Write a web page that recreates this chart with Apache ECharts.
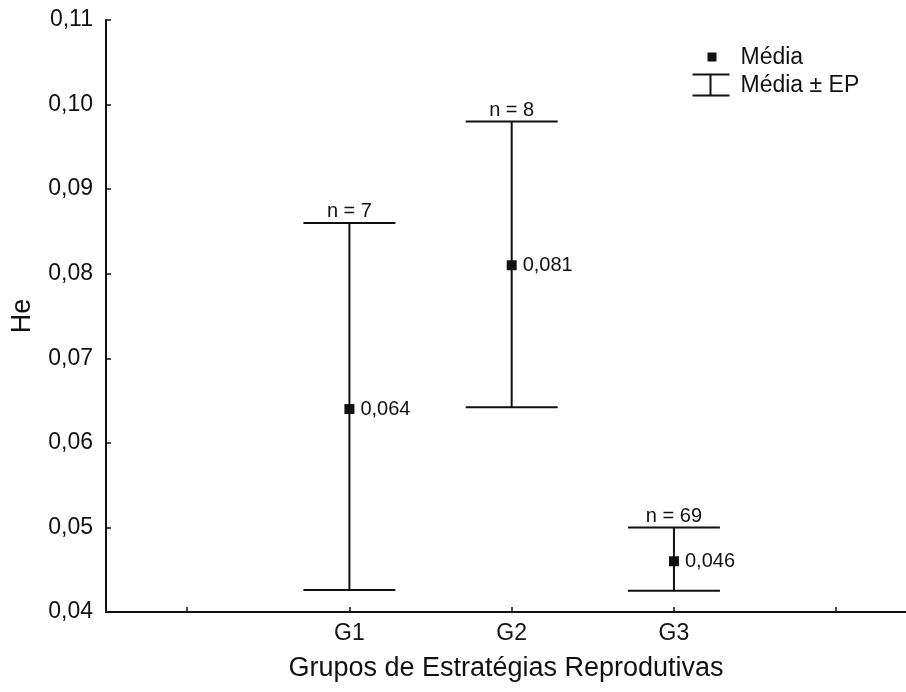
<!DOCTYPE html>
<html>
<head>
<meta charset="utf-8">
<script src="https://cdn.jsdelivr.net/npm/echarts@6/dist/echarts.min.js"></script>
<style>
  html, body { margin: 0; padding: 0; background: #fff; }
  #chart { width: 906px; height: 692px; }
</style>
</head>
<body>
<div id="chart"></div>
<script>
// Groups and their positions on the horizontal value axis
const categories = ['G1', 'G2', 'G3'];
const groupPositions = [2, 3, 4];
const xTickPositions = [1, 2, 3, 4, 5];

// Mean He per group and the mean ± standard error bounds
const means = [0.064, 0.081, 0.046];
const upperBounds = [0.086, 0.098, 0.050];
const lowerBounds = [0.0426, 0.0642, 0.0425];
const sampleSizes = [7, 8, 69];

const FONT = '"Liberation Sans", Arial, Helvetica, sans-serif';
const INK = '#111111';

const fmtComma = (v, digits) => v.toFixed(digits).replace('.', ',');

const meanData = groupPositions.map((x, i) => [x, means[i]]);
const barData = groupPositions.map((x, i) => [x, lowerBounds[i], upperBounds[i], sampleSizes[i]]);

const chart = echarts.init(document.getElementById('chart'), null, { renderer: 'canvas' });

const option = {
  animation: false,
  backgroundColor: '#ffffff',
  grid: { left: 106, right: 0, top: 20, bottom: 80, containLabel: false },
  xAxis: {
    type: 'value',
    min: 0.5,
    max: 5.43,
    name: 'Grupos de Estratégias Reprodutivas',
    nameLocation: 'middle',
    nameGap: 43,
    nameTextStyle: { fontFamily: FONT, fontSize: 27, color: INK },
    axisLine: { show: true, onZero: false, lineStyle: { color: INK, width: 2 } },
    axisTick: { show: true, inside: true, length: 5, customValues: xTickPositions, lineStyle: { color: INK, width: 1.5 } },
    axisLabel: {
      customValues: groupPositions,
      margin: 10,
      fontFamily: FONT, fontSize: 23, color: INK,
      formatter: v => categories[groupPositions.indexOf(Math.round(v))] || ''
    },
    splitLine: { show: false }
  },
  yAxis: {
    type: 'value',
    min: 0.04,
    max: 0.11,
    interval: 0.01,
    name: 'He',
    nameLocation: 'middle',
    nameGap: 70,
    nameRotate: 90,
    nameTextStyle: { fontFamily: FONT, fontSize: 27, color: INK },
    axisLine: { show: true, lineStyle: { color: INK, width: 2 } },
    axisTick: { show: true, inside: true, length: 5, lineStyle: { color: INK, width: 1.5 } },
    axisLabel: {
      margin: 13,
      fontFamily: FONT, fontSize: 23, color: INK,
      formatter: v => fmtComma(v, 2)
    },
    splitLine: { show: false }
  },
  series: [
    {
      name: 'Média ± EP',
      type: 'custom',
      data: barData,
      z: 2,
      renderItem: function (params, api) {
        const x = api.value(0);
        const lo = api.coord([x, api.value(1)]);
        const hi = api.coord([x, api.value(2)]);
        const hw = 46;
        const stroke = { stroke: INK, lineWidth: 2 };
        return {
          type: 'group',
          children: [
            { type: 'line', shape: { x1: lo[0], y1: lo[1], x2: hi[0], y2: hi[1] }, style: stroke },
            { type: 'line', shape: { x1: hi[0] - hw, y1: hi[1], x2: hi[0] + hw, y2: hi[1] }, style: stroke },
            { type: 'line', shape: { x1: lo[0] - hw, y1: lo[1], x2: lo[0] + hw, y2: lo[1] }, style: stroke },
            {
              type: 'text',
              style: {
                text: 'n = ' + api.value(3),
                x: hi[0], y: hi[1] - 1,
                textAlign: 'center', textVerticalAlign: 'bottom',
                font: '20px ' + FONT, fill: INK
              }
            }
          ]
        };
      }
    },
    {
      name: 'Média',
      type: 'scatter',
      data: meanData,
      z: 3,
      symbol: 'rect',
      symbolSize: 10,
      itemStyle: { color: INK, opacity: 1 },
      label: {
        show: true,
        position: 'right',
        distance: 6,
        fontFamily: FONT, fontSize: 20, color: INK,
        textBorderWidth: 0,
        opacity: 1,
        formatter: p => fmtComma(p.value[1], 3)
      }
    }
  ],
  graphic: [
    {
      type: 'group',
      left: 690,
      top: 46,
      children: [
        { type: 'rect', shape: { x: 15, y: 5, width: 9, height: 9 }, style: { fill: INK } },
        { type: 'text', style: { text: 'Média', x: 48, y: 10, textVerticalAlign: 'middle', font: '23px ' + FONT, fill: INK } },
        { type: 'line', shape: { x1: 0, y1: 27, x2: 37, y2: 27 }, style: { stroke: INK, lineWidth: 2 } },
        { type: 'line', shape: { x1: 0, y1: 48, x2: 37, y2: 48 }, style: { stroke: INK, lineWidth: 2 } },
        { type: 'line', shape: { x1: 18, y1: 27, x2: 18, y2: 48 }, style: { stroke: INK, lineWidth: 2 } },
        { type: 'text', style: { text: 'Média ± EP', x: 48, y: 38, textVerticalAlign: 'middle', font: '23px ' + FONT, fill: INK } }
      ]
    }
  ]
};

chart.setOption(option);
</script>
</body>
</html>
